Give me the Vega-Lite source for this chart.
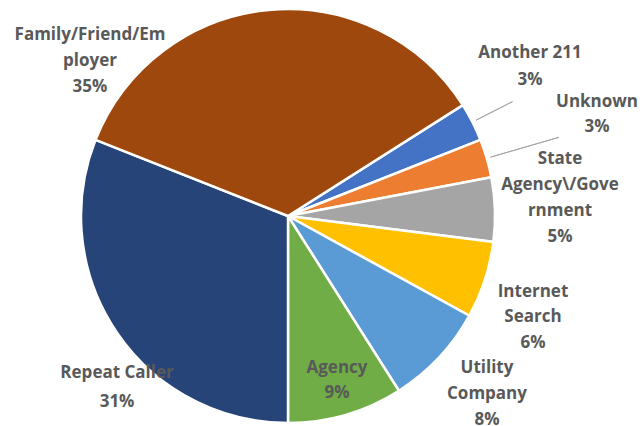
{
  "$schema": "https://vega.github.io/schema/vega-lite/v6.json",
  "width": 576,
  "height": 432,
  "autosize": "none",
  "padding": {"left": 0, "top": 0, "right": 67, "bottom": 0},
  "background": "white",
  "data": {
    "values": [
      {"category": "Another 211", "value": 3, "order": 1, "label": "Another 211\n3%"},
      {"category": "Unknown", "value": 3, "order": 2, "label": "Unknown\n3%"},
      {"category": "State Agency\\/Government", "value": 5, "order": 3, "label": "State\nAgency\\/Gove\nrnment\n5%"},
      {"category": "Internet Search", "value": 6, "order": 4, "label": "Internet\nSearch\n6%"},
      {"category": "Utility Company", "value": 8, "order": 5, "label": "Utility\nCompany\n8%"},
      {"category": "Agency", "value": 9, "order": 6, "label": "Agency\n9%"},
      {"category": "Repeat Caller", "value": 31, "order": 7, "label": "Repeat Caller\n31%"},
      {"category": "Family/Friend/Employer", "value": 35, "order": 8, "label": "Family/Friend/Em\nployer\n35%"}
    ]
  },
  "encoding": {
    "theta": {"field": "value", "type": "quantitative", "stack": true, "scale": {"range": [1.0053, 7.2885]}},
    "order": {"field": "order", "type": "quantitative"},
    "detail": {"field": "category", "type": "nominal"}
  },
  "layer": [
    {
      "mark": {"type": "arc", "outerRadius": 207, "stroke": "white", "strokeWidth": 2.5},
      "encoding": {
        "color": {
          "field": "category", "type": "nominal", "legend": null,
          "scale": {
            "domain": ["Another 211", "Unknown", "State Agency\\/Government", "Internet Search", "Utility Company", "Agency", "Repeat Caller", "Family/Friend/Employer"],
            "range": ["#4472C4", "#ED7D31", "#A5A5A5", "#FFC000", "#5B9BD5", "#70AD47", "#264478", "#9E480E"]
          }
        }
      }
    },
    {
      "mark": {"type": "arc", "innerRadius": 211, "outerRadius": 252, "padAngle": 0.4, "fillOpacity": 0, "stroke": "#A6A6A6", "strokeWidth": 1},
      "encoding": {"strokeOpacity": {"condition": {"test": "datum.category === 'Another 211'", "value": 1}, "value": 0}}
    },
    {
      "mark": {"type": "arc", "innerRadius": 211, "outerRadius": 282, "padAngle": 0.4, "fillOpacity": 0, "stroke": "#A6A6A6", "strokeWidth": 1},
      "encoding": {"strokeOpacity": {"condition": {"test": "datum.category === 'Unknown'", "value": 1}, "value": 0}}
    },
    {
      "mark": {"type": "text", "radius": 291.8, "thetaOffset": -0.1215, "font": "Open Sans", "fontWeight": "bold", "fontSize": 17, "fill": "#595959", "lineBreak": "\n", "lineHeight": 27, "align": "center", "baseline": "middle"},
      "encoding": {"text": {"condition": {"test": "datum.category === 'Another 211'", "field": "label"}, "value": ""}}
    },
    {
      "mark": {"type": "text", "radius": 329.4, "thetaOffset": -0.0707, "font": "Open Sans", "fontWeight": "bold", "fontSize": 17, "fill": "#595959", "lineBreak": "\n", "lineHeight": 25, "align": "center", "baseline": "middle"},
      "encoding": {"text": {"condition": {"test": "datum.category === 'Unknown'", "field": "label"}, "value": ""}}
    },
    {
      "mark": {"type": "text", "radius": 277.9, "thetaOffset": -0.1752, "font": "Open Sans", "fontWeight": "bold", "fontSize": 17, "fill": "#595959", "lineBreak": "\n", "lineHeight": 26, "align": "center", "baseline": "middle"},
      "encoding": {"text": {"condition": {"test": "datum.category === 'State Agency\\\\/Government'", "field": "label"}, "value": ""}}
    },
    {
      "mark": {"type": "text", "radius": 256.5, "thetaOffset": -0.0134, "font": "Open Sans", "fontWeight": "bold", "fontSize": 17, "fill": "#595959", "lineBreak": "\n", "lineHeight": 25.5, "align": "center", "baseline": "middle"},
      "encoding": {"text": {"condition": {"test": "datum.category === 'Internet Search'", "field": "label"}, "value": ""}}
    },
    {
      "mark": {"type": "text", "radius": 250.4, "thetaOffset": -0.1017, "font": "Open Sans", "fontWeight": "bold", "fontSize": 17, "fill": "#595959", "lineBreak": "\n", "lineHeight": 26, "align": "center", "baseline": "middle"},
      "encoding": {"text": {"condition": {"test": "datum.category === 'Utility Company'", "field": "label"}, "value": ""}}
    },
    {
      "mark": {"type": "text", "radius": 159.7, "thetaOffset": -0.0291, "font": "Open Sans", "fontWeight": "bold", "fontSize": 17, "fill": "#595959", "lineBreak": "\n", "lineHeight": 25, "align": "center", "baseline": "middle"},
      "encoding": {"text": {"condition": {"test": "datum.category === 'Agency'", "field": "label"}, "value": ""}}
    },
    {
      "mark": {"type": "text", "radius": 232.1, "thetaOffset": -0.1459, "font": "Open Sans", "fontWeight": "bold", "fontSize": 17, "fill": "#595959", "lineBreak": "\n", "lineHeight": 29, "align": "center", "baseline": "middle"},
      "encoding": {"text": {"condition": {"test": "datum.category === 'Repeat Caller'", "field": "label"}, "value": ""}}
    },
    {
      "mark": {"type": "text", "radius": 268.3, "thetaOffset": -0.736, "font": "Open Sans", "fontWeight": "bold", "fontSize": 17, "fill": "#595959", "lineBreak": "\n", "lineHeight": 26, "align": "center", "baseline": "middle"},
      "encoding": {"text": {"condition": {"test": "datum.category === 'Family/Friend/Employer'", "field": "label"}, "value": ""}}
    }
  ],
  "config": {"view": {"stroke": null}}
}
